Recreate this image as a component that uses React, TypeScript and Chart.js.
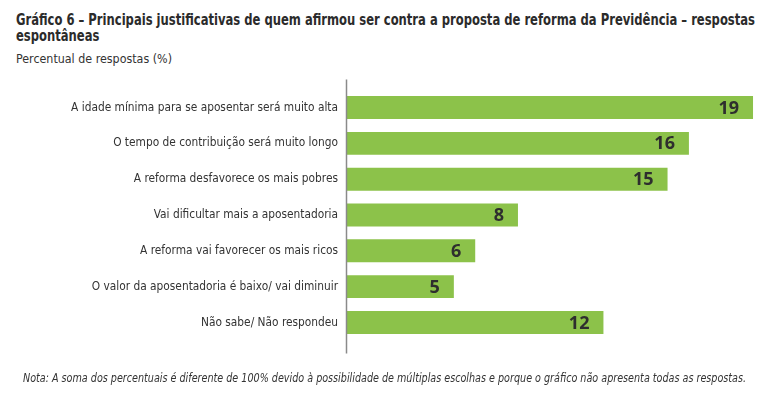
import React, { useEffect, useLayoutEffect, useRef } from "react";
import { Chart, registerables } from "chart.js";

Chart.register(...registerables);

const categories: string[] = [
  "A idade mínima para se aposentar será muito alta",
  "O tempo de contribuição será muito longo",
  "A reforma desfavorece os mais pobres",
  "Vai dificultar mais a aposentadoria",
  "A reforma vai favorecer os mais ricos",
  "O valor da aposentadoria é baixo/ vai diminuir",
  "Não sabe/ Não respondeu",
];
const values: number[] = [19, 16, 15, 8, 6, 5, 12];

const titleLine1 =
  "Gráfico 6 – Principais justificativas de quem afirmou ser contra a proposta de reforma da Previdência – respostas";
const titleLine2 = "espontâneas";
const subtitle = "Percentual de respostas (%)";
const note =
  "Nota: A soma dos percentuais é diferente de 100% devido à possibilidade de múltiplas escolhas e porque o gráfico não apresenta todas as respostas.";

const NARROW = "'DejaVu Sans Condensed', 'Liberation Sans Narrow', sans-serif";
const TEXT = "#333333";
const BAR = "#8cc24a";

const axisLinePlugin = {
  id: "axisLine",
  afterDatasetsDraw(chart: any) {
    const { ctx, chartArea } = chart;
    ctx.save();
    ctx.strokeStyle = "#8a8a8a";
    ctx.lineWidth = 1.5;
    ctx.beginPath();
    ctx.moveTo(chartArea.left - 0.5, chartArea.top - 10);
    ctx.lineTo(chartArea.left - 0.5, chartArea.bottom + 13);
    ctx.stroke();
    ctx.restore();
  },
};

const valueLabelPlugin = {
  id: "valueLabels",
  afterDatasetsDraw(chart: any) {
    const { ctx } = chart;
    const meta = chart.getDatasetMeta(0);
    ctx.save();
    ctx.fillStyle = "#2e2e2e";
    ctx.font = "bold 18px 'Open Sans', 'DejaVu Sans', sans-serif";
    ctx.textAlign = "right";
    ctx.textBaseline = "middle";
    meta.data.forEach((bar: any, i: number) => {
      ctx.fillText(String(values[i]), bar.x - 14, bar.y + 1);
    });
    ctx.restore();
  },
};

function FitText(props: {
  left: number;
  top: number;
  width: number;
  style: React.CSSProperties;
  children: React.ReactNode;
  measureFirstLine?: boolean;
}) {
  const ref = useRef<HTMLDivElement | null>(null);
  const lineRef = useRef<HTMLSpanElement | null>(null);
  useLayoutEffect(() => {
    const el = ref.current;
    if (!el) return;
    el.style.transform = "none";
    const w = lineRef.current ? lineRef.current.getBoundingClientRect().width : el.scrollWidth;
    if (w > 0) {
      el.style.transform = `scaleX(${props.width / w})`;
    }
  });
  return (
    <div
      ref={ref}
      style={{
        position: "absolute",
        left: props.left,
        top: props.top,
        whiteSpace: "nowrap",
        transformOrigin: "0 0",
        ...props.style,
      }}
    >
      {props.measureFirstLine ? (
        <>
          <span ref={lineRef}>{titleLine1}</span>
          <br />
          <span>{titleLine2}</span>
        </>
      ) : (
        <span ref={lineRef}>{props.children}</span>
      )}
    </div>
  );
}

export default function App() {
  const ref = useRef<HTMLCanvasElement | null>(null);

  useEffect(() => {
    if (!ref.current) return;
    const chart = new Chart(ref.current, {
      type: "bar",
      data: {
        labels: categories,
        datasets: [
          {
            data: values,
            backgroundColor: BAR,
            borderWidth: 0,
            barPercentage: 0.64,
            categoryPercentage: 1,
          },
        ],
      },
      options: {
        indexAxis: "y",
        animation: false,
        responsive: false,
        maintainAspectRatio: false,
        layout: { padding: { top: 89.6, bottom: 53.6, left: 0, right: 8.6 } },
        plugins: {
          legend: { display: false },
          tooltip: { enabled: false },
          title: { display: false },
        },
        scales: {
          x: {
            display: false,
            min: 0,
            max: 20,
          },
          y: {
            grid: { display: false, drawTicks: false },
            border: { display: false },
            ticks: {
              color: TEXT,
              padding: 9,
              font: { family: NARROW, size: 11.8 },
            },
            afterFit(scale: any) {
              scale.width = 347;
            },
          },
        },
      },
      plugins: [axisLinePlugin, valueLabelPlugin],
    });
    return () => chart.destroy();
  }, []);

  return (
    <div
      style={{
        position: "absolute",
        left: 0,
        top: 0,
        width: 783,
        height: 394,
        background: "#ffffff",
        overflow: "hidden",
        color: TEXT,
        fontFamily: NARROW,
      }}
    >
      <FitText
        left={16}
        top={11.5}
        width={739}
        measureFirstLine
        style={{ fontWeight: "bold", fontSize: 15, lineHeight: "16px", color: "#2b2b2b" }}
      >
        {titleLine1}
      </FitText>
      <FitText left={16} top={50.8} width={156} style={{ fontSize: 13, lineHeight: "16px" }}>
        {subtitle}
      </FitText>
      <canvas
        ref={ref}
        width={783}
        height={394}
        style={{ position: "absolute", left: 0, top: 0, width: 783, height: 394 }}
      />
      <FitText
        left={23}
        top={370}
        width={723}
        style={{ fontSize: 12.5, fontStyle: "italic", lineHeight: "16px" }}
      >
        {note}
      </FitText>
    </div>
  );
}
